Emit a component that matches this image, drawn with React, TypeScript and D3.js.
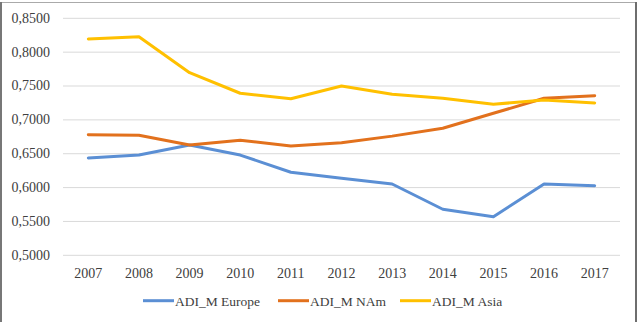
import React from "react";
import * as d3 from "d3";

const years = ["2007", "2008", "2009", "2010", "2011", "2012", "2013", "2014", "2015", "2016", "2017"];
const europe = [0.6437, 0.6481, 0.663, 0.648, 0.6226, 0.6137, 0.6053, 0.568, 0.557, 0.6053, 0.6028];
const nam = [0.6782, 0.6772, 0.663, 0.670, 0.6614, 0.6663, 0.676, 0.6876, 0.7097, 0.7319, 0.7357];
const asia = [0.8194, 0.8228, 0.7697, 0.7393, 0.7313, 0.750, 0.7378, 0.7318, 0.723, 0.7294, 0.725];
const yTicks = [0.5, 0.55, 0.6, 0.65, 0.7, 0.75, 0.8, 0.85];
const seriesNames = ["ADI_M Europe", "ADI_M NAm", "ADI_M Asia"];

const colors = ["#5B8FD4", "#E2711D", "#FFC000"];
const W = 640, H = 322;
const FONT = "'Liberation Serif', 'Times New Roman', serif";

export default function App() {
  const x = d3.scaleBand<string>().domain(years).range([63, 620]);
  const y = d3.scaleLinear().domain([0.5, 0.85]).range([255.3, 18.3]);
  const line = d3
    .line<number>()
    .x((_, i) => (x(years[i]) as number) + x.bandwidth() / 2)
    .y((d) => y(d));
  const series = [europe, nam, asia];
  const fmt = (v: number) => v.toFixed(4).replace(".", ",");
  const legendX = [143, 278, 400];

  return (
    <svg
      width={W}
      height={H}
      style={{ position: "absolute", left: 0, top: 0, background: "#fff" }}
      fontFamily={FONT}
    >
      <rect x={0} y={0} width={W} height={H} fill="#fff" />
      {yTicks.map((t) => (
        <g key={t}>
          <line x1={63} x2={620} y1={y(t)} y2={y(t)} stroke="#D9D9D9" strokeWidth={1} />
          <text x={50} y={y(t)} dy="0.32em" textAnchor="end" fontSize={14} fill="#404040">
            {fmt(t)}
          </text>
        </g>
      ))}
      {years.map((yr) => (
        <text
          key={yr}
          x={(x(yr) as number) + x.bandwidth() / 2}
          y={277.5}
          textAnchor="middle"
          fontSize={14}
          fill="#404040"
        >
          {yr}
        </text>
      ))}
      {series.map((s, i) => (
        <path
          key={i}
          d={line(s) || ""}
          fill="none"
          stroke={colors[i]}
          strokeWidth={3}
          strokeLinejoin="round"
          strokeLinecap="round"
        />
      ))}
      {seriesNames.map((n, i) => (
        <g key={n}>
          <line x1={legendX[i]} x2={legendX[i] + 31} y1={300.7} y2={300.7} stroke={colors[i]} strokeWidth={3} />
          <text x={legendX[i] + 32} y={306} fontSize={13.5} fill="#404040">
            {n}
          </text>
        </g>
      ))}
      <line x1={0} x2={637} y1={2.5} y2={2.5} stroke="#AAAAAA" strokeWidth={1} />
      <line x1={1} x2={1} y1={2} y2={H} stroke="#777777" strokeWidth={2} />
      <line x1={636} x2={636} y1={2} y2={H} stroke="#6E6E6E" strokeWidth={2} />
    </svg>
  );
}
